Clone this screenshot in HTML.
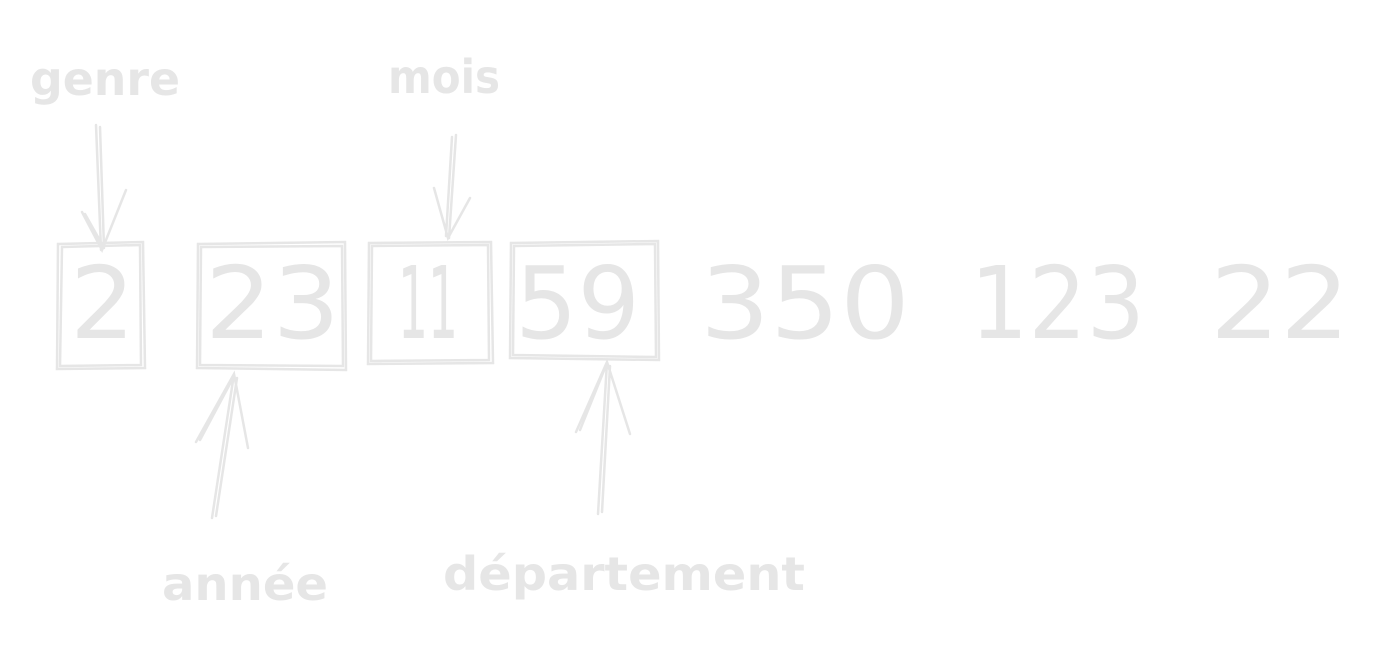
<!DOCTYPE html>
<html><head><meta charset="utf-8"><style>
html,body{margin:0;padding:0;background:#fff;width:1390px;height:646px;overflow:hidden}
svg{display:block}
text{font-family:"DejaVu Sans","Liberation Sans",sans-serif;fill:#e6e6e6}
.big{font-size:100px}
.lbl{font-size:46px;font-weight:bold}
.ln{stroke:#e6e6e6;stroke-width:2.5;fill:none;stroke-linecap:round}
</style></head><body>
<svg width="1390" height="646">
  <text class="lbl" x="30" y="95" textLength="150" lengthAdjust="spacingAndGlyphs">genre</text>
  <text class="lbl" x="388" y="93" textLength="112" lengthAdjust="spacingAndGlyphs">mois</text>
  <text class="lbl" x="162" y="600" textLength="166" lengthAdjust="spacingAndGlyphs">année</text>
  <text class="lbl" x="443" y="590" textLength="362" lengthAdjust="spacingAndGlyphs">département</text>

  <g>
    <text class="big" x="70" y="338" textLength="65" lengthAdjust="spacingAndGlyphs">2</text>
    <text class="big" x="205" y="338" textLength="135" lengthAdjust="spacingAndGlyphs">23</text>
    <text class="big" x="398" y="338" textLength="60" lengthAdjust="spacingAndGlyphs">11</text>
    <text class="big" x="515" y="338" textLength="125" lengthAdjust="spacingAndGlyphs">59</text>
    <text class="big" x="700" y="338" textLength="210" lengthAdjust="spacingAndGlyphs">350</text>
    <text class="big" x="970" y="338" textLength="175" lengthAdjust="spacingAndGlyphs">123</text>
    <text class="big" x="1210" y="338" textLength="140" lengthAdjust="spacingAndGlyphs">22</text>
  </g>

  <g>
    <path class="ln" d="M58 244 L143 242 L145 368 L57 369 Z M62 247 L140 245 L141 365 L60 366 Z"/>
    <path class="ln" d="M198 244 L345 242 L346 370 L197 368 Z M201 247 L342 246 L343 366 L200 365 Z"/>
    <path class="ln" d="M369 243 L491 242 L493 363 L368 364 Z M372 246 L488 245 L489 360 L371 361 Z"/>
    <path class="ln" d="M511 243 L658 241 L659 360 L510 358 Z M514 246 L655 244 L656 357 L513 355 Z"/>
  </g>

  <g>
    <path class="ln" d="M96 125 L101 250 M100 127 L104 248 M82 212 L102 250 L126 190 M85 214 L103 246"/>
    <path class="ln" d="M456 135 L449 238 M452 137 L446 236 M434 188 L448 238 L470 198"/>
    <path class="ln" d="M212 518 L234 374 M216 516 L237 378 M196 442 L234 374 L248 448 M200 440 L232 380"/>
    <path class="ln" d="M598 514 L607 362 M602 512 L610 366 M576 432 L607 362 L630 434 M580 430 L605 368"/>
  </g>
</svg>
</body></html>
